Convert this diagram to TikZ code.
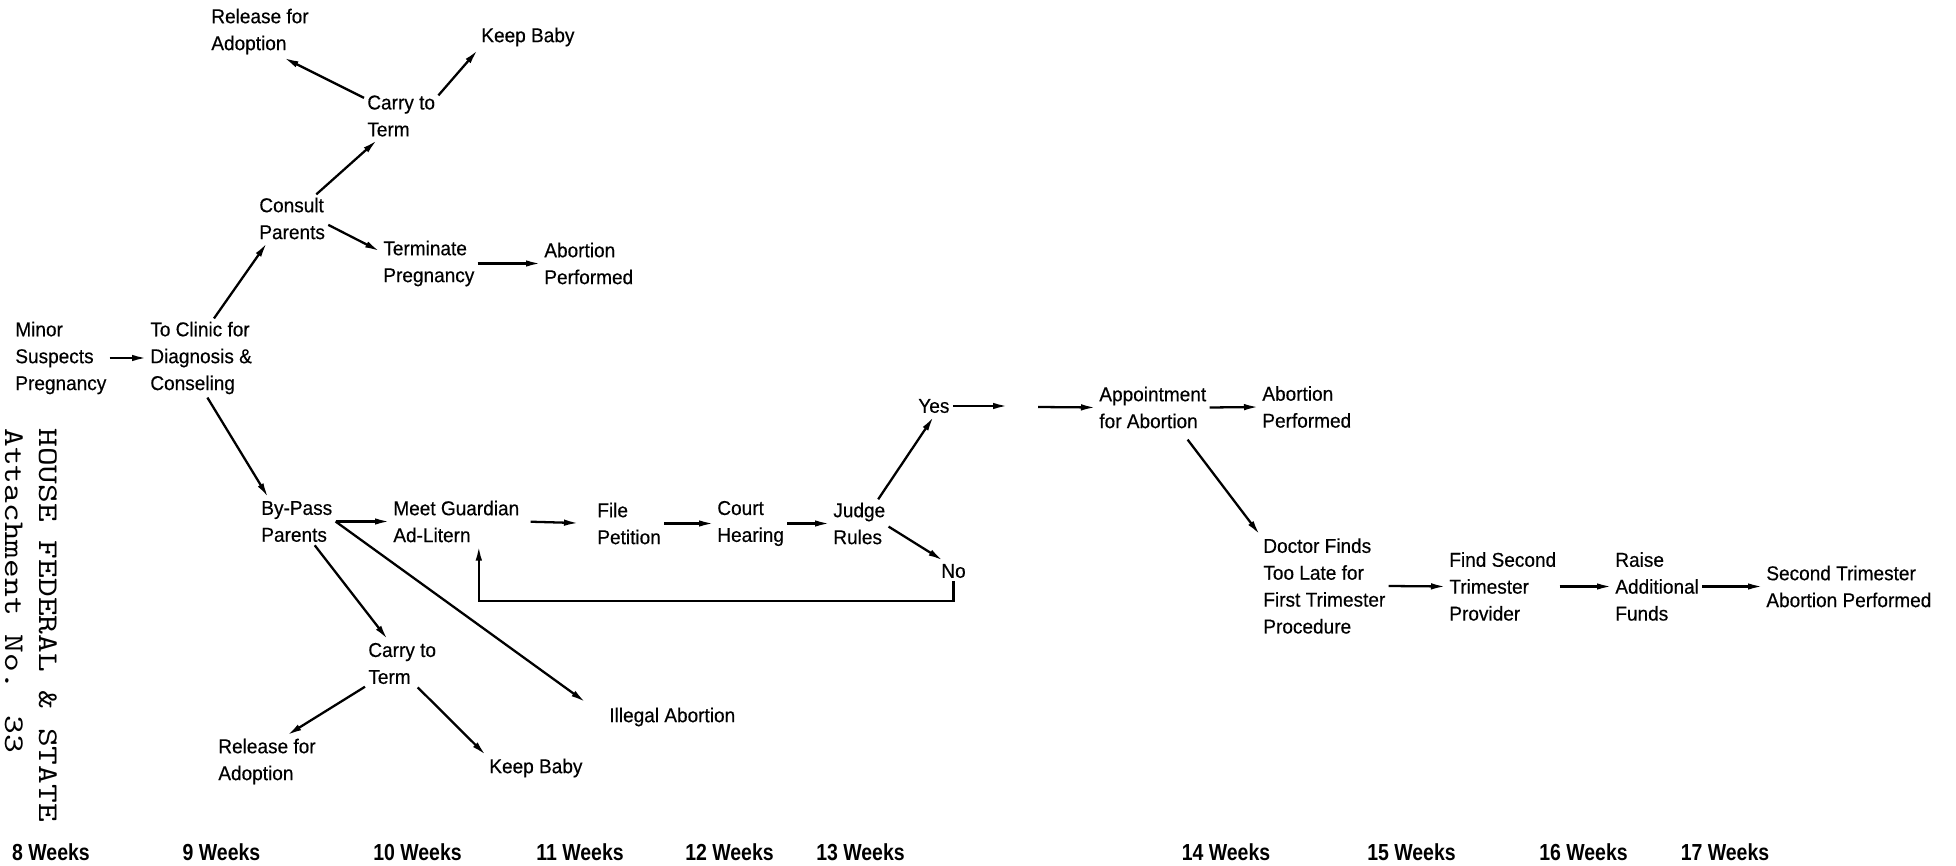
\documentclass[tikz,border=0pt]{standalone}
\usepackage{fontspec}
\setmainfont{Liberation Sans}[FakeStretch=0.95,FakeBold=0.4]
\newfontfamily\weekfont{Liberation Sans}[FakeStretch=0.84]
\newfontfamily\stampfont{lmmono10-regular.otf}[FakeStretch=1.25]
\usepackage{tikz}
\usetikzlibrary{arrows.meta}
\usetikzlibrary{positioning}
\tikzstyle{event}=[align=left,anchor=west,inner sep=3*0.2mm,font=\fontsize{11.4}{15.3}\selectfont]
\tikzstyle{flowedge} = [draw,line width=1.3pt,-{Latex[length=3mm,width=1.3mm]}]
\tikzstyle{weekmark} = [inner sep=0pt,font=\weekfont\bfseries\fontsize{13.2}{15}\selectfont]
\tikzstyle{stamp} = [rotate=-90,anchor=base west,inner sep=0pt,font=\stampfont\fontsize{16.25}{20}\selectfont]

\begin{document}
\begin{tikzpicture}[x=0.2mm,y=-0.2mm]
\useasboundingbox (0,0) rectangle (1956,866);

    % First we draw the steps
    \foreach \pos/\name/\text in {{(12,358)/minor/{Minor\\Suspects\\Pregnancy}},
        {(147,358)/clinic/{To Clinic for\\Diagnosis \&\\Conseling}},
        {(256,218.5)/consult/{Consult\\Parents}}, {(364,116)/carryT/{Carry to\\Term}},
        {(208,31.5)/releaseT/{Release for\\Adoption}}, {(478,37)/keepT/{Keep Baby}},
        {(380,263.5)/terminate/{Terminate\\Pregnancy}}, {(541,263.5)/abortT/{Abortion\\Performed}},
        {(258,521.5)/bypass/{By-Pass\\Parents}}, {(390,521.5)/meet/{Meet Guardian\\Ad-Litern}},
        {(594,523.5)/file/{File\\Petition}}, {(714,523.5)/court/{Court\\Hearing}},
        {(830,523.5)/judge/{Judge\\Rules}}, {(915,406)/yes/{Yes}}, {(938,571)/no/{No}},
        {(1096,407.5)/appoint/{Appointment\\for Abortion}}, {(1259,407)/abortR/{Abortion\\Performed}},
        {(1260,586)/doctor/{Doctor Finds\\Too Late for\\First Trimester\\Procedure}},
        {(1446,586.5)/findsec/{Find Second\\Trimester\\Provider}},
        {(1612,586.5)/raise/{Raise\\Additional\\Funds}},
        {(1763,586.5)/secondtri/{Second Trimester\\Abortion Performed}},
        {(365,663.5)/carryB/{Carry to\\Term}}, {(606,717)/illegal/{Illegal Abortion}},
        {(215,761.5)/releaseB/{Release for\\Adoption}}, {(486,768)/keepB/{Keep Baby}}}
        \node[event] (\name) at \pos {\text};

    \coordinate (gapL) at (1008,406);
    \coordinate (gapR) at (1038,407);

    % Connect the steps with arrows
  \foreach \source/ \dest in {minor.east/clinic.west, clinic.72/consult.224, consult.45/carryT.225,
      carryT.154/releaseT.312, carryT.29/keepT.south west, consult.350/terminate.166,
      terminate.east/abortT.west, clinic.279/bypass.140, bypass.east/meet.west,
      bypass.307/carryB.121, carryB.212/releaseB.53, carryB.303/keepB.north west,
      file.east/court.west, court.east/judge.west, judge.52/yes.south, judge.354/no.135,
      yes.east/gapL, gapR/appoint.west, appoint.east/abortR.west, doctor.east/findsec.west,
      findsec.east/raise.west, raise.east/secondtri.west}
          \path[flowedge] (\source) -- (\dest);
  \path[flowedge,shorten >=5mm] (bypass.east) -- (illegal.west);
  \path[flowedge,shorten <=1.6mm,shorten >=3mm] (meet.east) -- (file.west);
  \path[flowedge,shorten <=2mm] (appoint.320) -- (doctor.north west);
  \path[flowedge] (no.south) -- ++(0,20) -| (meet.313);

    % Time line
  \foreach \x/\w in {51/8, 221.5/9, 417.5/10, 580/11, 729.5/12, 860.5/13, 1226/14, 1411.5/15, 1583.5/16, 1725/17}
      \node[weekmark] (week\w) at (\x,852) {\w{} Weeks};

\node[stamp] (house) at (39,428) {HOUSE FEDERAL \& STATE};
\node[stamp] (attach) at (5,428) {Attachment No. 33};

\end{tikzpicture}
\end{document}
